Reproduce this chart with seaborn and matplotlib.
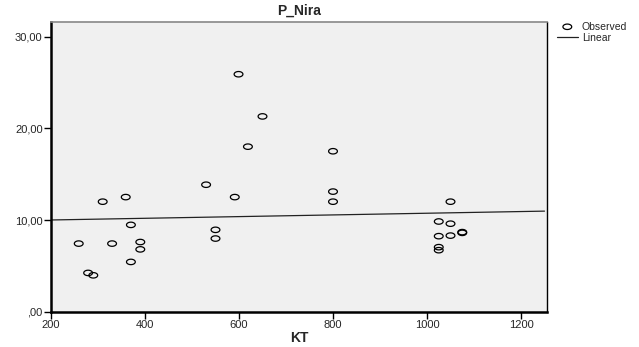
import numpy as np
import pandas as pd
import seaborn as sns
import matplotlib.pyplot as plt
from matplotlib.path import Path
from matplotlib.ticker import FuncFormatter

# observed points
kt = [259, 279, 290, 310, 330, 359, 370, 370, 390, 390, 530, 550, 550, 591,
      599, 619, 650, 800, 800, 800, 1025, 1025, 1025, 1025, 1050, 1050, 1050,
      1075, 1075]
p_nira = [7.43, 4.23, 3.97, 12.0, 7.43, 12.5, 9.47, 5.43, 7.6, 6.8, 13.85,
          8.93, 7.98, 12.5, 25.9, 18.0, 21.3, 17.5, 13.1, 12.0, 9.84, 8.24,
          7.04, 6.71, 12.0, 9.6, 8.3, 8.68, 8.6]

# linear fit as drawn
fit_intercept = 9.82
fit_slope = 0.00092
line_x = [200, 1250]

sns.set_style("white")
plt.rcParams['font.family'] = ['Liberation Sans', 'DejaVu Sans']

df = pd.DataFrame({"KT": kt, "P_Nira": p_nira})
line_df = pd.DataFrame({"KT": line_x,
                        "fit": [fit_intercept + fit_slope * v for v in line_x]})

# flattened open circle, like the SPSS marker
t = np.linspace(0, 2 * np.pi, 40)
ellipse = Path(np.column_stack([np.cos(t), 0.62 * np.sin(t)]), closed=True)

fig = plt.figure(figsize=(6.39, 3.47), dpi=100)
ax = fig.add_axes([0.0798, 0.1017, 0.776, 0.835])
ax.set_facecolor("#f0f0f0")

sns.lineplot(data=line_df, x="KT", y="fit", color="#222222", linewidth=0.9,
             ax=ax, label="Linear", legend=False)
sns.scatterplot(data=df, x="KT", y="P_Nira", marker=ellipse, s=40,
                facecolor="none", edgecolor="black", linewidth=0.9, ax=ax,
                label="Observed", legend=False)

ax.set_xlim(200, 1255)
ax.set_ylim(0, 31.6)
ax.set_xticks([200, 400, 600, 800, 1000, 1200])
ax.set_yticks([0, 10, 20, 30])
ax.yaxis.set_major_formatter(FuncFormatter(
    lambda v, p: ",00" if v == 0 else f"{v:.2f}".replace(".", ",")))
ax.tick_params(axis="both", labelsize=8, length=5, width=1, color="black",
               direction="out", pad=1, left=True, bottom=True)

for side in ["left", "bottom"]:
    ax.spines[side].set_color("black")
    ax.spines[side].set_linewidth(1.8)
ax.spines["top"].set_color("#888888")
ax.spines["top"].set_linewidth(1.2)
ax.spines["right"].set_color("black")
ax.spines["right"].set_linewidth(1.0)

ax.set_title("P_Nira", fontsize=10, fontweight="bold", pad=5)
ax.set_xlabel("KT", fontsize=10, fontweight="bold", labelpad=1)
ax.set_ylabel("")

h, l = ax.get_legend_handles_labels()
order = [l.index("Observed"), l.index("Linear")]
fig.legend([h[i] for i in order], [l[i] for i in order],
           loc="upper left", bbox_to_anchor=(0.865, 0.95), frameon=False,
           fontsize=7.5, handlelength=2.0, handletextpad=0.4,
           labelspacing=0.15, borderaxespad=0)

fig.savefig("out.png", dpi=100)
